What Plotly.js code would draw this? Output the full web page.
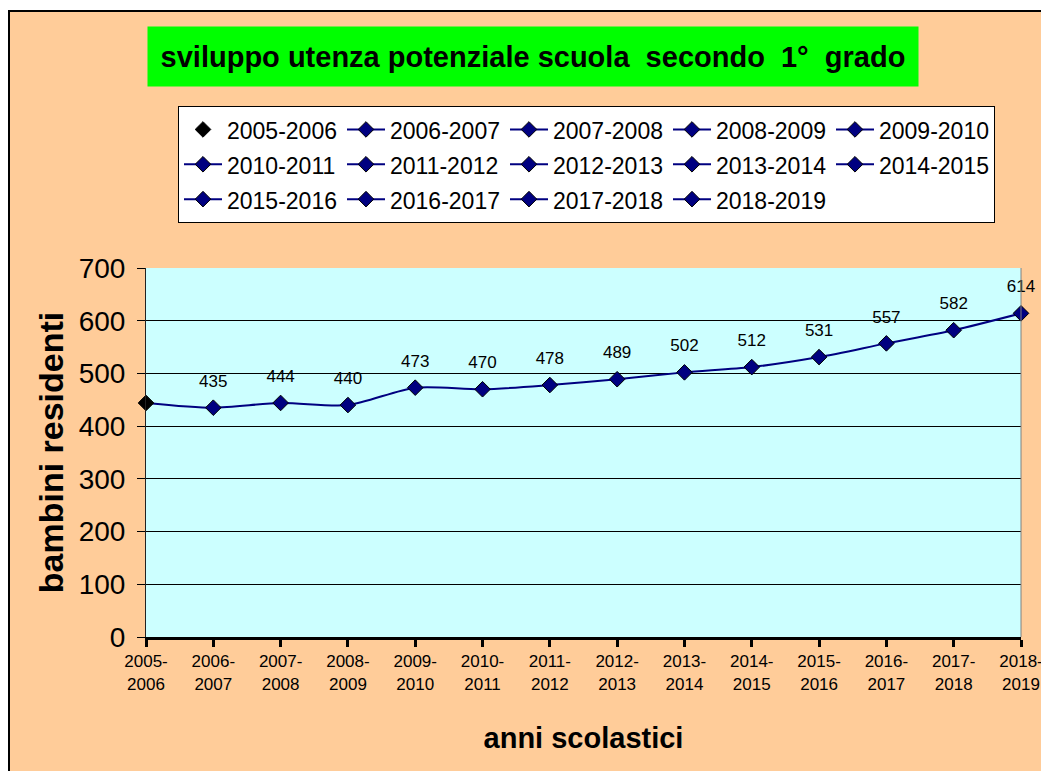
<!DOCTYPE html>
<html>
<head>
<meta charset="utf-8">
<script src="https://cdn.plot.ly/plotly-3.0.1.min.js"></script>
<style>html,body{margin:0;padding:0;background:#fff;}#chart{width:1041px;height:771px;}</style>
</head>
<body>
<div id="chart"></div>
<script>
var categories = ['2005-2006','2006-2007','2007-2008','2008-2009','2009-2010','2010-2011','2011-2012','2012-2013','2013-2014','2014-2015','2015-2016','2016-2017','2017-2018','2018-2019'];
var values = [444, 435, 444, 440, 473, 470, 478, 489, 502, 512, 531, 557, 582, 614];
var dataLabels = ['', '435', '444', '440', '473', '470', '478', '489', '502', '512', '531', '557', '582', '614'];
var xTickText = ['2005-<br>2006','2006-<br>2007','2007-<br>2008','2008-<br>2009','2009-<br>2010','2010-<br>2011','2011-<br>2012','2012-<br>2013','2013-<br>2014','2014-<br>2015','2015-<br>2016','2016-<br>2017','2017-<br>2018','2018-<br>2019'];
var yTickVals = [0, 100, 200, 300, 400, 500, 600, 700];

var NAVY = '#000080';
var FONT = 'Arial, "Liberation Sans", sans-serif';

var traces = [{
  x: categories, y: values, type: 'scatter', mode: 'lines+markers+text',
  line: {color: NAVY, width: 2, shape: 'spline', smoothing: 0.8},
  marker: {size: 25, color: 'rgba(0,0,0,0)', line: {width: 0}},
  text: dataLabels, textposition: 'top center',
  textfont: {family: FONT, size: 17, color: '#000'},
  showlegend: false, cliponaxis: false, hoverinfo: 'skip'
}];
categories.forEach(function(c, i) {
  traces.push({
    x: [c], y: [values[i]], type: 'scatter',
    mode: i === 0 ? 'markers' : 'lines+markers',
    name: '<span style="font-size:23px">' + c + '</span>',
    line: {color: NAVY, width: 2},
    marker: {symbol: 'diamond', size: 12, color: i === 0 ? '#000' : NAVY, line: {color: '#000', width: 1}},
    cliponaxis: false
  });
});

var W = 875, H = 369, L = 146, T = 268;
function px(x) { return (x - L) / W; }
function py(y) { return (T + H - y) / H; }

var layout = {
  width: 1041, height: 771,
  margin: {l: L, r: 1041 - L - W, t: T, b: 771 - T - H, pad: 0},
  paper_bgcolor: '#ffffff',
  plot_bgcolor: 'rgba(0,0,0,0)',
  font: {family: FONT, color: '#000'},
  showlegend: true,
  legend: {
    orientation: 'h', x: px(178), y: py(106), xanchor: 'left', yanchor: 'top',
    bgcolor: '#ffffff', bordercolor: '#000', borderwidth: 1,
    font: {family: FONT, size: 24.5, color: '#000'},
    entrywidth: 110, entrywidthmode: 'pixels', itemwidth: 38,
    traceorder: 'normal'
  },
  xaxis: {
    type: 'category', range: [0, 13], fixedrange: true,
    tickvals: categories, ticktext: xTickText,
    tickfont: {family: FONT, size: 17, color: '#000'},
    showline: true, linecolor: '#000', linewidth: 3,
    ticks: 'outside', ticklen: 7, tickwidth: 3, tickcolor: '#000',
    showgrid: false, zeroline: false,
    title: {text: '<b>anni scolastici</b>', font: {family: FONT, size: 29, color: '#000'}, standoff: 36},
    automargin: false
  },
  yaxis: {
    range: [0, 700], tickvals: yTickVals, fixedrange: true,
    tickfont: {family: FONT, size: 28, color: '#000'},
    ticklabelstandoff: 6,
    showline: true, linecolor: '#222', linewidth: 1,
    ticks: 'outside', ticklen: 8, tickwidth: 1, tickcolor: '#000',
    showgrid: true, gridcolor: '#000', gridwidth: 1, zeroline: false,
    title: {text: '<b>bambini residenti</b>', font: {family: FONT, size: 34, color: '#000'}, standoff: 4},
    automargin: false
  },
  shapes: [
    {type: 'rect', xref: 'paper', yref: 'paper', x0: px(9), x1: px(1050), y0: py(780), y1: py(11),
     fillcolor: '#FFCC99', line: {color: '#000', width: 2}, layer: 'below'},
    {type: 'rect', xref: 'paper', yref: 'paper', x0: 0, x1: 1, y0: 0, y1: 1,
     fillcolor: '#CCFFFF', line: {width: 0}, layer: 'below'},
    {type: 'line', xref: 'paper', yref: 'paper', x0: 1, x1: 1, y0: 0, y1: 1,
     line: {color: '#808080', width: 1}}
  ],
  annotations: [{
    xref: 'paper', yref: 'paper', x: px(533), y: py(56.5), xanchor: 'center', yanchor: 'middle',
    text: '<b>sviluppo utenza potenziale scuola\u00a0 secondo\u00a0 1°\u00a0 grado</b>',
    showarrow: false, bgcolor: '#00FF00', width: 766, height: 55, borderpad: 2,
    font: {family: FONT, size: 29, color: '#000'}
  }]
};

Plotly.newPlot('chart', traces, layout, {displayModeBar: false, staticPlot: true});
</script>
</body>
</html>
